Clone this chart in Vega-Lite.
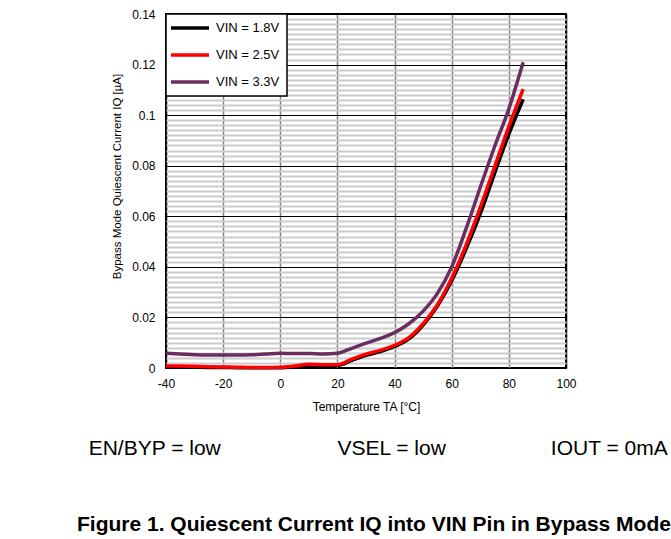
{
  "$schema": "https://vega.github.io/schema/vega-lite/v6.json",
  "width": 400,
  "height": 354,
  "autosize": {"type": "none"},
  "padding": {"left": 166, "top": 14, "right": 105, "bottom": 171},
  "background": "white",
  "config": {
    "view": {"stroke": "black", "strokeWidth": 2},
    "font": "Liberation Sans"
  },
  "title": {
    "text": "\u200b\u00a0\u00a0EN/BYP = low\u00a0\u00a0\u00a0\u00a0\u00a0\u00a0\u00a0\u00a0\u00a0\u00a0\u00a0\u00a0\u00a0\u00a0\u00a0\u00a0\u00a0\u00a0\u00a0\u00a0VSEL = low\u00a0\u00a0\u00a0\u00a0\u00a0\u00a0\u00a0\u00a0\u00a0\u00a0\u00a0\u00a0\u00a0\u00a0\u00a0\u00a0\u00a0\u00a0IOUT = 0mA",
    "subtitle": "Figure 1. Quiescent Current IQ into VIN Pin in Bypass Mode",
    "orient": "bottom",
    "anchor": "start",
    "frame": "group",
    "dx": -89,
    "offset": 25,
    "font": "Liberation Sans",
    "fontSize": 21,
    "fontWeight": "normal",
    "color": "black",
    "subtitleFont": "Liberation Sans",
    "subtitleFontSize": 21,
    "subtitleFontWeight": "bold",
    "subtitleColor": "black",
    "subtitlePadding": 55
  },
  "data": {
    "values": [
      {"t": -40, "v": "VIN = 1.8V", "i": 0.0004},
      {"t": -35, "v": "VIN = 1.8V", "i": 0.0004},
      {"t": -30, "v": "VIN = 1.8V", "i": 0.0003},
      {"t": -25, "v": "VIN = 1.8V", "i": 0.0002},
      {"t": -20, "v": "VIN = 1.8V", "i": 0.0002},
      {"t": -15, "v": "VIN = 1.8V", "i": 0.0001},
      {"t": -10, "v": "VIN = 1.8V", "i": 0.0001},
      {"t": -5, "v": "VIN = 1.8V", "i": 0.0001},
      {"t": 0, "v": "VIN = 1.8V", "i": 0.0001},
      {"t": 5, "v": "VIN = 1.8V", "i": 0.0005},
      {"t": 10, "v": "VIN = 1.8V", "i": 0.0011},
      {"t": 15, "v": "VIN = 1.8V", "i": 0.001},
      {"t": 20, "v": "VIN = 1.8V", "i": 0.001},
      {"t": 25, "v": "VIN = 1.8V", "i": 0.003},
      {"t": 30, "v": "VIN = 1.8V", "i": 0.005},
      {"t": 35, "v": "VIN = 1.8V", "i": 0.0065},
      {"t": 40, "v": "VIN = 1.8V", "i": 0.0085},
      {"t": 45, "v": "VIN = 1.8V", "i": 0.0115},
      {"t": 50, "v": "VIN = 1.8V", "i": 0.017},
      {"t": 55, "v": "VIN = 1.8V", "i": 0.0245},
      {"t": 60, "v": "VIN = 1.8V", "i": 0.0345},
      {"t": 65, "v": "VIN = 1.8V", "i": 0.047},
      {"t": 70, "v": "VIN = 1.8V", "i": 0.061},
      {"t": 75, "v": "VIN = 1.8V", "i": 0.077},
      {"t": 80, "v": "VIN = 1.8V", "i": 0.0925},
      {"t": 85, "v": "VIN = 1.8V", "i": 0.1063},
      {"t": -40, "v": "VIN = 2.5V", "i": 0.0008},
      {"t": -35, "v": "VIN = 2.5V", "i": 0.0008},
      {"t": -30, "v": "VIN = 2.5V", "i": 0.0007},
      {"t": -25, "v": "VIN = 2.5V", "i": 0.0005},
      {"t": -20, "v": "VIN = 2.5V", "i": 0.0004},
      {"t": -15, "v": "VIN = 2.5V", "i": 0.0003},
      {"t": -10, "v": "VIN = 2.5V", "i": 0.0002},
      {"t": -5, "v": "VIN = 2.5V", "i": 0.0002},
      {"t": 0, "v": "VIN = 2.5V", "i": 0.0003},
      {"t": 5, "v": "VIN = 2.5V", "i": 0.0008},
      {"t": 10, "v": "VIN = 2.5V", "i": 0.0015},
      {"t": 15, "v": "VIN = 2.5V", "i": 0.0013},
      {"t": 20, "v": "VIN = 2.5V", "i": 0.0013},
      {"t": 25, "v": "VIN = 2.5V", "i": 0.0035},
      {"t": 30, "v": "VIN = 2.5V", "i": 0.0055},
      {"t": 35, "v": "VIN = 2.5V", "i": 0.007},
      {"t": 40, "v": "VIN = 2.5V", "i": 0.009},
      {"t": 45, "v": "VIN = 2.5V", "i": 0.012},
      {"t": 50, "v": "VIN = 2.5V", "i": 0.0175},
      {"t": 55, "v": "VIN = 2.5V", "i": 0.025},
      {"t": 60, "v": "VIN = 2.5V", "i": 0.0355},
      {"t": 65, "v": "VIN = 2.5V", "i": 0.0485},
      {"t": 70, "v": "VIN = 2.5V", "i": 0.0635},
      {"t": 75, "v": "VIN = 2.5V", "i": 0.0795},
      {"t": 80, "v": "VIN = 2.5V", "i": 0.0955},
      {"t": 85, "v": "VIN = 2.5V", "i": 0.1103},
      {"t": -40, "v": "VIN = 3.3V", "i": 0.0058},
      {"t": -35, "v": "VIN = 3.3V", "i": 0.0055},
      {"t": -30, "v": "VIN = 3.3V", "i": 0.0052},
      {"t": -25, "v": "VIN = 3.3V", "i": 0.0051},
      {"t": -20, "v": "VIN = 3.3V", "i": 0.0051},
      {"t": -15, "v": "VIN = 3.3V", "i": 0.0051},
      {"t": -10, "v": "VIN = 3.3V", "i": 0.0052},
      {"t": -5, "v": "VIN = 3.3V", "i": 0.0055},
      {"t": 0, "v": "VIN = 3.3V", "i": 0.0058},
      {"t": 5, "v": "VIN = 3.3V", "i": 0.0057},
      {"t": 10, "v": "VIN = 3.3V", "i": 0.0057},
      {"t": 15, "v": "VIN = 3.3V", "i": 0.0055},
      {"t": 20, "v": "VIN = 3.3V", "i": 0.0058},
      {"t": 25, "v": "VIN = 3.3V", "i": 0.0078},
      {"t": 30, "v": "VIN = 3.3V", "i": 0.0098},
      {"t": 35, "v": "VIN = 3.3V", "i": 0.0117},
      {"t": 40, "v": "VIN = 3.3V", "i": 0.014},
      {"t": 45, "v": "VIN = 3.3V", "i": 0.0175},
      {"t": 50, "v": "VIN = 3.3V", "i": 0.0225},
      {"t": 55, "v": "VIN = 3.3V", "i": 0.0295},
      {"t": 60, "v": "VIN = 3.3V", "i": 0.04},
      {"t": 65, "v": "VIN = 3.3V", "i": 0.055},
      {"t": 70, "v": "VIN = 3.3V", "i": 0.0715},
      {"t": 75, "v": "VIN = 3.3V", "i": 0.0875},
      {"t": 80, "v": "VIN = 3.3V", "i": 0.1025},
      {"t": 85, "v": "VIN = 3.3V", "i": 0.1209}
    ]
  },
  "mark": {"type": "line", "strokeWidth": 3.5, "interpolate": "monotone"},
  "encoding": {
    "x": {
      "field": "t",
      "type": "quantitative",
      "scale": {"domain": [-40, 100], "nice": false, "zero": false},
      "axis": {
        "values": [-40, -20, 0, 20, 40, 60, 80, 100],
        "labelExpr": "'' + datum.value",
        "title": "Temperature TA [°C]",
        "titleFont": "Liberation Sans",
        "titleFontSize": 12,
        "titleFontWeight": "normal",
        "titleColor": "black",
        "titleBaseline": "alphabetic",
        "titleY": 42.5,
        "labelFont": "Liberation Sans",
        "labelFontSize": 12,
        "labelColor": "black",
        "labelPadding": 10,
        "ticks": false,
        "domain": false,
        "grid": true,
        "gridColor": {"condition": {"test": "datum.value == -40 || datum.value == 100", "value": "black"}, "value": "#808080"},
        "gridWidth": 1.5,
        "gridOpacity": 1,
        "labelOverlap": false,
        "labelBound": false,
        "labelFlush": false
      }
    },
    "y": {
      "field": "i",
      "type": "quantitative",
      "scale": {"domain": [0, 0.14], "nice": false},
      "axis": {
        "values": [0, 0.002, 0.004, 0.006, 0.008, 0.01, 0.012, 0.014, 0.016, 0.018, 0.02, 0.022, 0.024, 0.026, 0.028, 0.03, 0.032, 0.034, 0.036, 0.038, 0.04, 0.042, 0.044, 0.046, 0.048, 0.05, 0.052, 0.054, 0.056, 0.058, 0.06, 0.062, 0.064, 0.066, 0.068, 0.07, 0.072, 0.074, 0.076, 0.078, 0.08, 0.082, 0.084, 0.086, 0.088, 0.09, 0.092, 0.094, 0.096, 0.098, 0.1, 0.102, 0.104, 0.106, 0.108, 0.11, 0.112, 0.114, 0.116, 0.118, 0.12, 0.122, 0.124, 0.126, 0.128, 0.13, 0.132, 0.134, 0.136, 0.138, 0.14],
        "format": "~g",
        "labelExpr": "abs(datum.value * 50 - round(datum.value * 50)) < 0.001 ? datum.label : ''",
        "title": "Bypass Mode Quiescent Current  IQ [µA]",
        "titleFont": "Liberation Sans",
        "titleFontSize": 11.5,
        "titleFontWeight": "normal",
        "titleColor": "black",
        "titleBaseline": "alphabetic",
        "titleX": -46,
        "titleY": 162,
        "labelFont": "Liberation Sans",
        "labelFontSize": 12,
        "labelColor": "black",
        "labelPadding": 11,
        "ticks": false,
        "domain": false,
        "grid": true,
        "gridColor": {"condition": {"test": "abs(datum.value * 50 - round(datum.value * 50)) < 0.001", "value": "black"}, "value": "#cccccc"},
        "gridWidth": {"condition": {"test": "abs(datum.value * 50 - round(datum.value * 50)) < 0.001", "value": 1}, "value": 2},
        "gridOpacity": 1,
        "labelOverlap": false,
        "labelBound": false,
        "labelFlush": false
      }
    },
    "color": {
      "field": "v",
      "type": "nominal",
      "scale": {"domain": ["VIN = 1.8V", "VIN = 2.5V", "VIN = 3.3V"], "range": ["#000000", "#ff0000", "#6b2d5f"]},
      "legend": {
        "title": null,
        "orient": "top-left",
        "offset": 0,
        "fillColor": "white",
        "strokeColor": "black",
        "padding": 7,
        "symbolType": "M-3.8,0H3.8",
        "symbolSize": 100,
        "symbolStrokeWidth": 3.5,
        "symbolOffset": 10,
        "labelFont": "Liberation Sans",
        "labelFontSize": 13,
        "labelColor": "black",
        "labelOffset": 19,
        "rowPadding": 13,
        "encode": {"legend": {"update": {"strokeWidth": {"value": 1.5}}}}
      }
    }
  }
}
